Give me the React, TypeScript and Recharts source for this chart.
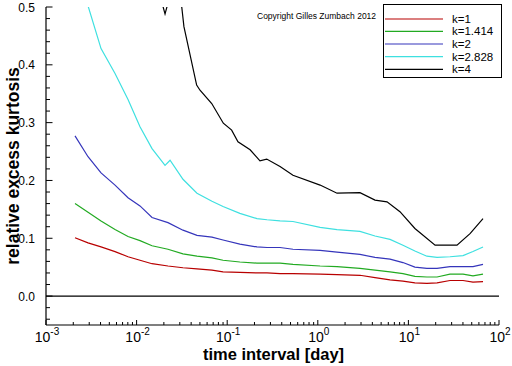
import React from 'react';
import { LineChart, Line, XAxis, YAxis, ReferenceLine } from 'recharts';

// time grid (days) shared by k=1, k=1.414, k=2
const gridT = [0.00209, 0.00291, 0.00405, 0.00578, 0.00804, 0.0109, 0.0148, 0.0222, 0.0325, 0.0464, 0.0679, 0.09, 0.138, 0.213, 0.275, 0.383, 0.532, 1.06, 1.63, 2.92, 4.28, 6.27, 8.71, 11.8, 16.0, 20.7, 28.8, 40.1, 51.6, 66.6];
const k1Values = [0.101, 0.092, 0.085, 0.077, 0.068, 0.062, 0.056, 0.052, 0.049, 0.047, 0.045, 0.042, 0.041, 0.040, 0.040, 0.039, 0.039, 0.038, 0.037, 0.036, 0.032, 0.028, 0.026, 0.023, 0.022, 0.023, 0.027, 0.027, 0.024, 0.025];
const k1414Values = [0.160, 0.145, 0.130, 0.115, 0.103, 0.096, 0.087, 0.081, 0.073, 0.069, 0.066, 0.062, 0.059, 0.057, 0.057, 0.057, 0.055, 0.052, 0.051, 0.048, 0.045, 0.042, 0.039, 0.034, 0.033, 0.033, 0.038, 0.038, 0.035, 0.038];
const k2Values = [0.277, 0.241, 0.213, 0.192, 0.170, 0.156, 0.136, 0.127, 0.114, 0.105, 0.102, 0.097, 0.090, 0.085, 0.084, 0.084, 0.081, 0.079, 0.076, 0.072, 0.067, 0.064, 0.058, 0.050, 0.048, 0.048, 0.051, 0.051, 0.051, 0.055];

const k2828T = [0.00209, 0.00291, 0.00405, 0.00578, 0.00804, 0.0109, 0.0148, 0.0206, 0.0234, 0.0325, 0.0464, 0.0679, 0.09, 0.138, 0.213, 0.275, 0.383, 0.532, 1.06, 1.63, 2.92, 4.28, 6.27, 8.71, 11.8, 16.0, 20.7, 28.8, 40.1, 51.6, 66.6];
const k2828Values = [0.57, 0.502, 0.428, 0.385, 0.340, 0.293, 0.255, 0.226, 0.235, 0.202, 0.178, 0.164, 0.155, 0.143, 0.134, 0.132, 0.130, 0.129, 0.119, 0.115, 0.112, 0.104, 0.098, 0.088, 0.078, 0.069, 0.067, 0.068, 0.070, 0.077, 0.085];

const k4T = [0.0181, 0.0206, 0.0234, 0.0315, 0.0333, 0.046, 0.0501, 0.0675, 0.0906, 0.112, 0.1315, 0.179, 0.23, 0.273, 0.383, 0.532, 1.06, 1.63, 2.92, 4.28, 5.81, 8.07, 11.8, 19.7, 34.4, 47.9, 66.6];
const k4Values = [0.52, 0.488, 0.52, 0.50, 0.466, 0.365, 0.356, 0.333, 0.299, 0.287, 0.267, 0.253, 0.234, 0.237, 0.224, 0.209, 0.192, 0.178, 0.179, 0.166, 0.163, 0.146, 0.117, 0.088, 0.088, 0.108, 0.134];

const seriesNames = ['k=1', 'k=1.414', 'k=2', 'k=2.828', 'k=4'];
const seriesColors = ['#b80000', '#22aa22', '#3535bb', '#3ee0e0', '#000000'];

const xMajorExponents = [-3, -2, -1, 0, 1, 2];
const yMajorLabels = ['0.0', '0.1', '0.2', '0.3', '0.4', '0.5'];

const FONT = '"Liberation Sans", Arial, Helvetica, sans-serif';

const toPoints = (ts: number[], vs: number[]) => ts.map((t, i) => ({ t, v: vs[i] }));
const seriesData = [
  toPoints(gridT, k1Values),
  toPoints(gridT, k1414Values),
  toPoints(gridT, k2Values),
  toPoints(k2828T, k2828Values),
  toPoints(k4T, k4Values),
];

const xTicks: number[] = [];
xMajorExponents.slice(0, -1).forEach((e) => {
  for (let m = 1; m <= 9; m++) xTicks.push(Number((m * Math.pow(10, e)).toPrecision(3)));
});
xTicks.push(Math.pow(10, xMajorExponents[xMajorExponents.length - 1]));

const yTicks: number[] = [];
for (let n = -2; n <= 25; n++) yTicks.push(Number((n * 0.02).toFixed(2)));

const XTick = (props: any) => {
  const { x, y, payload } = props;
  const e = Math.log10(payload.value);
  const major = Math.abs(e - Math.round(e)) < 1e-6;
  return (
    <g>
      <line x1={x} x2={x} y1={y} y2={y - (major ? 5 : 3)} stroke="#000" strokeWidth={1} />
      {major && (
        <text x={x + 1} y={y + 17} textAnchor="middle" fontSize={14} fontFamily={FONT} fill="#000">
          10
          <tspan dy={-7} fontSize={10}>{String(Math.round(e))}</tspan>
        </text>
      )}
    </g>
  );
};

const YTick = (props: any) => {
  const { x, y, payload } = props;
  const n = Math.round(payload.value / 0.02);
  const major = n % 5 === 0 && n >= 0;
  return (
    <g>
      <line x1={x} x2={x + (major ? 6.5 : 4)} y1={y} y2={y} stroke="#000" strokeWidth={1} />
      {major && (
        <text x={x - 11} y={y + 4.5} textAnchor="end" fontSize={12} fontFamily={FONT} fill="#000">
          {yMajorLabels[n / 5]}
        </text>
      )}
    </g>
  );
};

const legendRows = [19, 31.3, 44, 56.7, 69.3];

export default function App() {
  return (
    <div style={{ position: 'absolute', left: 0, top: 0, width: 512, height: 366, background: '#fff' }}>
      <LineChart width={512} height={366} margin={{ top: 7, right: 13, bottom: 0, left: 0 }}>
        <XAxis
          dataKey="t"
          type="number"
          scale="log"
          domain={[0.001, 100]}
          allowDataOverflow
          ticks={xTicks}
          interval={0}
          tick={<XTick />}
          tickLine={false}
          tickSize={0}
          tickMargin={0}
          height={41}
          axisLine={{ stroke: '#000', strokeWidth: 1.2 }}
        />
        <YAxis
          dataKey="v"
          type="number"
          domain={[-0.05, 0.5]}
          allowDataOverflow
          ticks={yTicks}
          interval={0}
          tick={<YTick />}
          tickLine={false}
          tickSize={0}
          tickMargin={0}
          width={46}
          axisLine={{ stroke: '#000', strokeWidth: 1.2 }}
        />
        <ReferenceLine y={0} stroke="#000" strokeWidth={1.3} />
        {seriesData.map((d, i) => (
          <Line
            key={seriesNames[i]}
            data={d}
            dataKey="v"
            name={seriesNames[i]}
            stroke={seriesColors[i]}
            strokeWidth={1.2}
            dot={false}
            activeDot={false}
            isAnimationActive={false}
            type="linear"
          />
        ))}
      </LineChart>
      <svg width={512} height={366} style={{ position: 'absolute', left: 0, top: 0, pointerEvents: 'none' }}>
        <text x={257} y={19} fontSize={8.5} fontFamily={FONT} fill="#000">Copyright Gilles Zumbach 2012</text>
        <rect x={383.5} y={4.5} width={118} height={73} fill="#fff" stroke="#000" strokeWidth={1} />
        {seriesNames.map((name, i) => (
          <g key={name}>
            <line x1={385} x2={443} y1={legendRows[i]} y2={legendRows[i]} stroke={seriesColors[i]} strokeWidth={1.2} />
            <text x={452} y={legendRows[i] + 4} fontSize={11.5} fontFamily={FONT} fill="#000">{name}</text>
          </g>
        ))}
        <text x={273.5} y={360} textAnchor="middle" fontSize={16.5} fontWeight="bold" fontFamily={FONT} fill="#000">time interval [day]</text>
        <text x={0} y={0} transform="translate(19,166) rotate(-90)" textAnchor="middle" fontSize={17.5} fontWeight="bold" fontFamily={FONT} fill="#000">relative excess kurtosis</text>
      </svg>
    </div>
  );
}
